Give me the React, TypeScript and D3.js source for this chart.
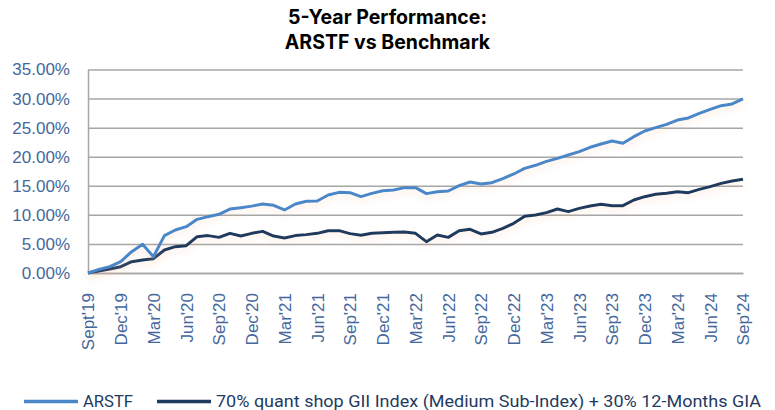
import React from 'react';
import { select, scalePoint, scaleLinear, axisBottom, axisLeft, line } from 'd3';

const months = [
  "Sept'19", "Oct'19", "Nov'19", "Dec'19",
  "Jan'20", "Feb'20", "Mar'20", "Apr'20", "May'20", "Jun'20", "Jul'20", "Aug'20", "Sep'20", "Oct'20", "Nov'20", "Dec'20",
  "Jan'21", "Feb'21", "Mar'21", "Apr'21", "May'21", "Jun'21", "Jul'21", "Aug'21", "Sep'21", "Oct'21", "Nov'21", "Dec'21",
  "Jan'22", "Feb'22", "Mar'22", "Apr'22", "May'22", "Jun'22", "Jul'22", "Aug'22", "Sep'22", "Oct'22", "Nov'22", "Dec'22",
  "Jan'23", "Feb'23", "Mar'23", "Apr'23", "May'23", "Jun'23", "Jul'23", "Aug'23", "Sep'23", "Oct'23", "Nov'23", "Dec'23",
  "Jan'24", "Feb'24", "Mar'24", "Apr'24", "May'24", "Jun'24", "Jul'24", "Aug'24", "Sep'24",
];

// cumulative return, %
const arstf = [
  0, 0.63, 1.1, 1.95, 3.67, 4.93, 2.81, 6.43, 7.4, 7.97, 9.23, 9.69, 10.1,
  11.0, 11.24, 11.5, 11.87, 11.64, 10.84, 11.87, 12.33, 12.38, 13.42, 13.87, 13.82,
  13.13, 13.7, 14.16, 14.28, 14.68, 14.68, 13.65, 13.99, 14.1, 15.02, 15.65, 15.3,
  15.54, 16.22, 17.03, 18.0, 18.52, 19.2, 19.72, 20.3, 20.87, 21.62, 22.19, 22.7,
  22.3, 23.45, 24.42, 25.0, 25.57, 26.3, 26.66, 27.46, 28.15, 28.78, 29.07, 29.93,
];

const benchmark = [
  0, 0.34, 0.69, 1.09, 1.95, 2.24, 2.47, 3.96, 4.53, 4.7, 6.25, 6.43, 6.13,
  6.82, 6.36, 6.82, 7.16, 6.36, 6.02, 6.43, 6.6, 6.82, 7.28, 7.28, 6.77,
  6.48, 6.82, 6.94, 7.0, 7.05, 6.82, 5.39, 6.54, 6.13, 7.28, 7.51, 6.71,
  7.0, 7.68, 8.54, 9.75, 9.98, 10.38, 11.0, 10.55, 11.12, 11.52, 11.81, 11.58,
  11.58, 12.56, 13.13, 13.53, 13.7, 13.99, 13.82, 14.39, 14.85, 15.42, 15.82, 16.11,
];

const yTicks = [0, 5, 10, 15, 20, 25, 30, 35];
const tickLabels = months.filter((_, i) => i % 3 === 0);

const seriesNames = ['ARSTF', '70% quant shop GII Index (Medium Sub-Index) + 30% 12-Months GIA'];

export default function App() {
  const svgRef = React.useRef<SVGSVGElement>(null);

  React.useEffect(() => {
    document.body.style.margin = '0';
    const w = 775;
    const h = 410;
    const m = { left: 88, right: 32, top: 69.5, bottom: 137 };
    const svg = select(svgRef.current).attr('width', w).attr('height', h);
    svg.selectAll('*').remove();

    const x = scalePoint<string>().domain(months).range([m.left, w - m.right]);
    const y = scaleLinear().domain([0, 35]).range([h - m.bottom, m.top]);

    const gridColor = '#a6a6a6';
    const labelColor = '#44689c';
    const font = '"Liberation Sans", Arial, sans-serif';

    const defs = svg.append('defs');
    defs.append('filter')
      .attr('id', 'glow')
      .attr('x', '-5%').attr('y', '-20%').attr('width', '110%').attr('height', '140%')
      .append('feDropShadow')
      .attr('dx', 0).attr('dy', 4).attr('stdDeviation', 3)
      .attr('flood-color', '#f4b183').attr('flood-opacity', 0.25);

    // y axis + gridlines
    const yAxis = axisLeft(y)
      .tickValues(yTicks)
      .tickSize(-(w - m.left - m.right))
      .tickSizeOuter(0)
      .tickPadding(18)
      .tickFormat(d => `${(+d).toFixed(2)}%`);
    const gy = svg.append('g').attr('transform', `translate(${m.left},0)`).call(yAxis);
    gy.select('.domain').attr('stroke', gridColor).attr('stroke-width', 1.5);
    gy.selectAll('.tick line').attr('stroke', gridColor).attr('stroke-width', 1.5);
    gy.selectAll('.tick text')
      .attr('fill', labelColor).style('font-family', font).style('font-size', '17px');

    // x axis
    const xAxis = axisBottom(x).tickValues(tickLabels).tickSize(0).tickPadding(20);
    const gx = svg.append('g').attr('transform', `translate(0,${h - m.bottom})`).call(xAxis);
    gx.select('.domain').attr('stroke', gridColor).attr('stroke-width', 1.5);
    gx.selectAll('.tick text')
      .attr('fill', labelColor).style('font-family', font).style('font-size', '17px')
      .attr('text-anchor', 'end')
      .attr('transform', 'rotate(-90)')
      .attr('x', -20).attr('y', 0).attr('dy', '0.35em');

    const mk = (vals: number[]) =>
      line<number>().x((_, i) => x(months[i]) as number).y(d => y(d))(vals);

    svg.append('path')
      .attr('d', mk(benchmark))
      .attr('fill', 'none').attr('stroke', '#1f3a5f').attr('stroke-width', 3)
      .attr('stroke-linejoin', 'round').attr('filter', 'url(#glow)');
    svg.append('path')
      .attr('d', mk(arstf))
      .attr('fill', 'none').attr('stroke', '#4a87c9').attr('stroke-width', 3)
      .attr('stroke-linejoin', 'round').attr('filter', 'url(#glow)');

    // title
    const title = svg.append('text')
      .attr('text-anchor', 'middle')
      .style('font-family', 'Inter, "Liberation Sans", sans-serif')
      .style('font-weight', 700).style('font-size', '19.5px').attr('fill', '#000');
    title.append('tspan').attr('x', w / 2).attr('y', 24).text('5-Year Performance:');
    title.append('tspan').attr('x', w / 2).attr('y', 49).text('ARSTF vs Benchmark');

    // legend
    const legend = [
      { name: seriesNames[0], color: '#4a87c9', x0: 24, len: 50 },
      { name: seriesNames[1], color: '#1f3a5f', x0: 157, len: 545 },
    ];
    const lg = svg.append('g').attr('transform', 'translate(0,401.5)');
    legend.forEach(l => {
      lg.append('line')
        .attr('x1', l.x0).attr('x2', l.x0 + 54).attr('y1', 0).attr('y2', 0)
        .attr('stroke', l.color).attr('stroke-width', 3.5);
      lg.append('text')
        .attr('x', l.x0 + 59).attr('y', 0).attr('dy', '0.35em')
        .attr('textLength', l.len).attr('lengthAdjust', 'spacingAndGlyphs')
        .style('font-family', 'Roboto, sans-serif').style('font-size', '16px')
        .attr('fill', '#1f3a5f').text(l.name);
    });
  }, []);

  return <svg ref={svgRef} style={{ display: 'block' }} />;
}
